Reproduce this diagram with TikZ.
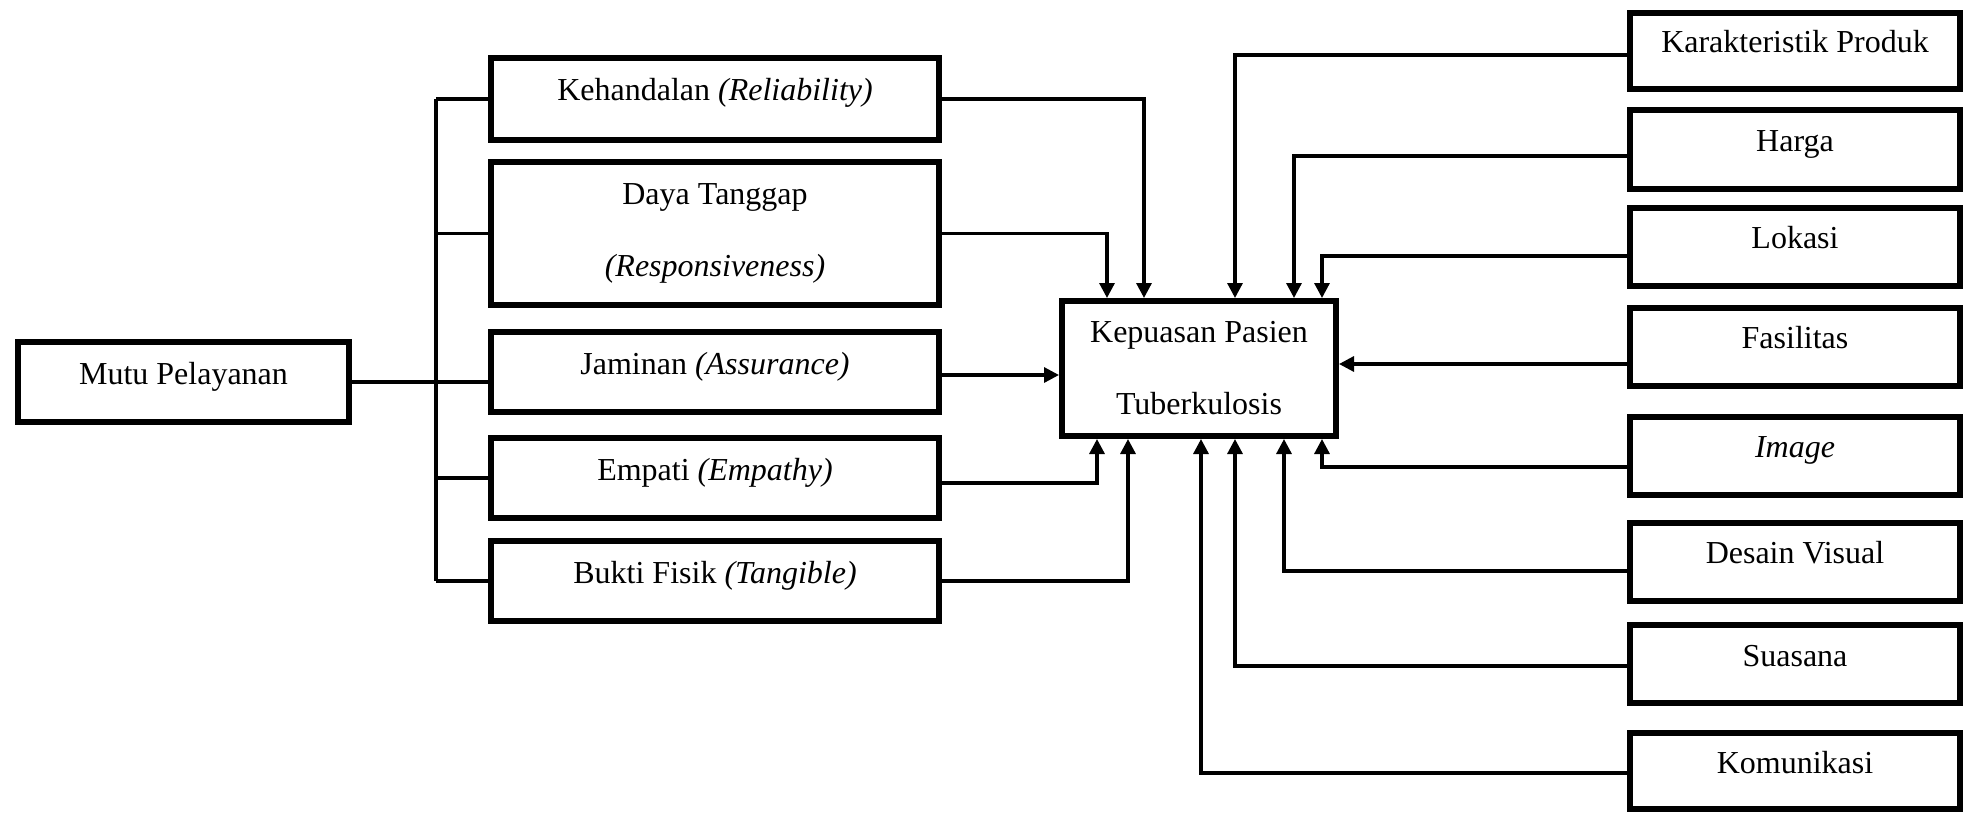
\documentclass[tikz,border=0pt]{standalone}
\usepackage{fontspec}
\setmainfont{Liberation Serif}
\usetikzlibrary{arrows.meta}

\tikzset{
	box/.style={draw, line width=3pt, inner sep=0pt, font=\fontsize{16}{19}\selectfont, text height=11pt, text depth=9pt},
	lbox/.style={box, minimum width=224pt, minimum height=40pt},
	rbox/.style={box, minimum width=165pt, minimum height=39pt},
	twobox/.style={draw, line width=3pt, inner sep=0pt, align=center, font=\fontsize{16}{36}\selectfont},
	arr/.style={-{Triangle[length=7.5pt,width=7.5pt]}}
}

\begin{document}
\begin{tikzpicture}[x=0.5pt, y=-0.5pt, line width=1.6pt]
	\useasboundingbox (0,0) rectangle (1971,813);

	\node[box, minimum width=165.5pt, minimum height=40pt] (mutu) at (183.5,382) {Mutu Pelayanan};

	\node[lbox, minimum height=41pt] (keh) at (715,99) {Kehandalan \textit{(Reliability)}};
	\node[twobox, minimum width=224pt, minimum height=71.5pt] (daya) at (715,233.5) {Daya Tanggap\\\textit{(Responsiveness)}};
	\node[lbox] (jam) at (715,372) {Jaminan \textit{(Assurance)}};
	\node[lbox] (emp) at (715,478) {Empati \textit{(Empathy)}};
	\node[lbox] (bukti) at (715,581) {Bukti Fisik \textit{(Tangible)}};

	\node[twobox, minimum width=137pt, minimum height=67.5pt] (kep) at (1199,368.5) {Kepuasan Pasien\\Tuberkulosis};

	\node[rbox, minimum height=38pt] (kar) at (1795,51) {Karakteristik Produk};
	\node[rbox] (harga) at (1795,149.5) {Harga};
	\node[rbox] (lok) at (1795,247) {Lokasi};
	\node[rbox] (fas) at (1795,346.5) {Fasilitas};
	\node[rbox] (img) at (1795,455.5) {\textit{Image}};
	\node[rbox] (des) at (1795,561.5) {Desain Visual};
	\node[rbox] (sua) at (1795,664) {Suasana};
	\node[rbox, minimum height=38pt] (kom) at (1795,771) {Komunikasi};

	\coordinate (trunk) at (436,0);
	\draw (mutu.east) -- (jam.west |- mutu.east);
	\draw (trunk |- keh.west) -- (trunk |- bukti.west);
	\foreach \n in {keh, daya, emp, bukti}
		\draw (trunk |- \n.west) -- (\n.west);

	\coordinate (jamout) at ([yshift=-1.5pt]jam.east);
	\coordinate (fasout) at ([yshift=-8.75pt]fas.west);

	\draw[arr] (keh.east) -| ([xshift=-27.5pt]kep.north);
	\draw[arr] (daya.east) -| ([xshift=-46pt]kep.north);
	\draw[arr] (jamout) -- (kep.west |- jamout);
	\draw[arr] ([yshift=-2.5pt]emp.east) -| ([xshift=-51pt]kep.south);
	\draw[arr] (bukti.east) -| ([xshift=-35.5pt]kep.south);

	\draw[arr] ([yshift=-2pt]kar.west) -| ([xshift=18pt]kep.north);
	\draw[arr] ([yshift=-3.25pt]harga.west) -| ([xshift=47.5pt]kep.north);
	\draw[arr] ([yshift=-4.5pt]lok.west) -| ([xshift=61.5pt]kep.north);
	\draw[arr] (fasout) -- (kep.east |- fasout);
	\draw[arr] ([yshift=-5.75pt]img.west) -| ([xshift=61.5pt]kep.south);
	\draw[arr] ([yshift=-4.75pt]des.west) -| ([xshift=42.5pt]kep.south);
	\draw[arr] ([yshift=-1pt]sua.west) -| ([xshift=18pt]kep.south);
	\draw[arr] ([yshift=-1pt]kom.west) -| ([xshift=1pt]kep.south);
\end{tikzpicture}
\end{document}
